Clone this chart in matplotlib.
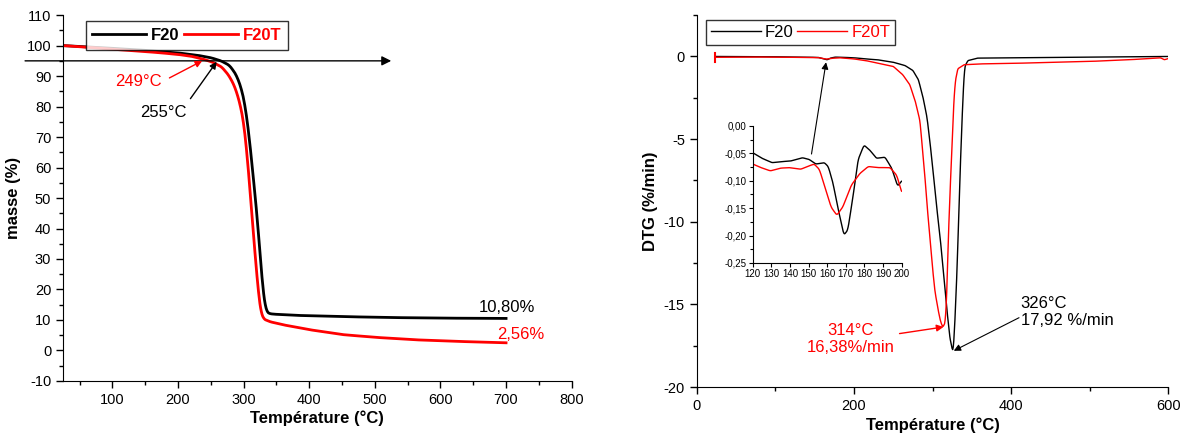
import numpy as np
import matplotlib
matplotlib.use("Agg")
import matplotlib.pyplot as plt
from matplotlib.ticker import MultipleLocator, FuncFormatter

plt.rcParams["font.family"] = ["Liberation Sans", "DejaVu Sans"]
plt.rcParams["axes.unicode_minus"] = False

# --- TGA (masse %) ---
tga_t_f20 = [25, 60, 100, 140, 170, 200, 230, 250, 265, 278, 288, 296, 302, 308, 315,
             320, 324, 328, 331, 334, 338, 345, 380, 450, 520, 600, 700]
tga_m_f20 = [100, 99.6, 99.1, 98.6, 98.1, 97.6, 96.8, 96.0, 95.0, 93.5, 90.5, 86.0, 80.0,
             70.0, 55.0, 44.0, 33.0, 22.0, 16.0, 12.8, 12.1, 11.9, 11.5, 11.1, 10.8, 10.6, 10.5]
tga_t_f20t = [25, 60, 100, 140, 170, 200, 220, 237, 252, 266, 276, 284, 290, 296, 300,
              304, 308, 312, 316, 320, 323, 326, 330, 340, 360, 400, 450, 500, 560, 620, 700]
tga_m_f20t = [100, 99.5, 98.8, 98.2, 97.7, 97.1, 96.5, 95.6, 94.6, 93.0, 90.5, 87.5, 84.0,
              79.0, 74.0, 66.0, 56.0, 45.0, 34.0, 24.0, 17.0, 12.5, 10.3, 9.4, 8.4, 6.8,
              5.2, 4.3, 3.5, 3.0, 2.5]

# --- DTG (%/min) ---
dtg_t_f20 = [23, 60, 100, 140, 155, 162, 166, 170, 176, 185, 200, 215, 230, 250, 265, 275,
             282, 288, 293, 297, 301, 305, 310, 314, 318, 322, 326, 328, 331, 335, 337,
             339, 341, 345, 357, 400, 450, 500, 550, 600]
dtg_v_f20 = [0, -0.01, -0.02, -0.04, -0.06, -0.15, -0.2, -0.1, -0.04, -0.05, -0.08, -0.15,
             -0.2, -0.35, -0.55, -0.85, -1.4, -2.5, -3.7, -5.3, -7.1, -9.0, -11.1, -13.2,
             -15.2, -17.0, -17.92, -16.5, -13.1, -7.1, -4.5, -2.1, -0.6, -0.25, -0.1,
             -0.08, -0.06, -0.04, -0.02, 0.0]
dtg_t_f20t = [23, 60, 100, 140, 155, 160, 165, 172, 182, 200, 215, 230, 250, 262, 271, 278,
              284, 290, 293, 297, 300, 303, 307, 310, 313, 316, 318, 320, 322, 325, 327,
              329, 332, 340, 360, 400, 450, 500, 550, 590, 595, 600]
dtg_v_f20t = [-0.05, -0.03, -0.04, -0.06, -0.07, -0.12, -0.16, -0.11, -0.08, -0.15, -0.25,
              -0.4, -0.6, -1.1, -1.7, -2.7, -3.9, -7.1, -9.0, -11.1, -12.8, -14.2, -15.3,
              -16.0, -16.38, -16.1, -14.5, -11.1, -8.5, -5.1, -2.8, -1.5, -0.75, -0.5,
              -0.45, -0.42, -0.36, -0.3, -0.2, -0.08, -0.2, -0.12]
dtg_start_cap = [0.22, -0.35]

# --- inset DTG 120-200 °C ---
ins_t_f20 = [120, 124.9, 130.3, 135.7, 140.3, 146.6, 150.2, 153.8, 158.4, 160.5, 162.9,
             165.6, 168.9, 171, 173.8, 176.5, 179.7, 182.8, 186.4, 191, 194.6, 197.8, 200]
ins_v_f20 = [-0.049, -0.059, -0.067, -0.065, -0.064, -0.058, -0.061, -0.0695, -0.067,
             -0.074, -0.102, -0.148, -0.199, -0.19, -0.129, -0.062, -0.035, -0.044,
             -0.059, -0.057, -0.077, -0.110, -0.100]
ins_t_f20t = [120, 124, 129.4, 134.8, 139.4, 145.7, 149.3, 152.9, 155.7, 158.4, 162,
              165.1, 168.3, 172.9, 177.4, 182, 187.3, 193.7, 197.3, 200]
ins_v_f20t = [-0.0695, -0.0756, -0.082, -0.077, -0.076, -0.079, -0.074, -0.0695, -0.079,
              -0.108, -0.148, -0.163, -0.148, -0.108, -0.087, -0.074, -0.076, -0.076,
              -0.090, -0.122]


def smooth(x, y, n=6):
    # densify with a light moving average to soften the polyline
    xs = np.linspace(min(x), max(x), len(x) * 20)
    ys = np.interp(xs, x, y)
    k = np.ones(n) / n
    yp = np.convolve(np.pad(ys, (n // 2, n - 1 - n // 2), mode="edge"), k, mode="valid")
    return xs, yp


def arrow(ax, start, end, color, lw=1, ms=10):
    ax.annotate("", xy=end, xytext=start, annotation_clip=False,
                arrowprops=dict(arrowstyle="-|>", color=color, lw=lw, mutation_scale=ms,
                                shrinkA=0, shrinkB=0))


fig = plt.figure(figsize=(11.91, 4.45), dpi=100)
ax1 = fig.add_axes([0.053, 0.144, 0.427, 0.822])
ax2 = fig.add_axes([0.585, 0.130, 0.396, 0.836])
axi = fig.add_axes([0.632, 0.409, 0.125, 0.308])

# ---------------- left: TGA ----------------
ax1.plot(*smooth(tga_t_f20, tga_m_f20), color="black", lw=2, label="F20")
ax1.plot(*smooth(tga_t_f20t, tga_m_f20t), color="red", lw=2, label="F20T")
ax1.set_xlim(25, 800)
ax1.set_ylim(-10, 110)
ax1.xaxis.set_major_locator(MultipleLocator(100))
ax1.xaxis.set_minor_locator(MultipleLocator(50))
ax1.yaxis.set_major_locator(MultipleLocator(10))
ax1.yaxis.set_minor_locator(MultipleLocator(5))
ax1.spines[["top", "right"]].set_visible(False)
ax1.tick_params(labelsize=10.5, length=5, width=1)
ax1.tick_params(which="minor", length=3, width=1)
ax1.set_xlabel("Température (°C)", fontsize=12, fontweight="bold", labelpad=3)
ax1.set_ylabel("masse (%)", fontsize=12, fontweight="bold", labelpad=4)

arrow(ax1, (-33, 95), (525, 95), "black", ms=14)
ax1.text(140, 88.3, "249°C", color="red", fontsize=12, ha="center", va="center")
arrow(ax1, (187, 89.4), (237, 95), "red")
ax1.text(178, 78, "255°C", color="black", fontsize=12, ha="center", va="center")
arrow(ax1, (219, 82.6), (259, 94.7), "black")
ax1.text(701, 14, "10,80%", fontsize=12, ha="center", va="center")
ax1.text(722, 5.1, "2,56%", fontsize=12, ha="center", va="center", color="red")
ax1.legend(loc="upper left", bbox_to_anchor=(0.028, 1.006), ncol=2, frameon=True,
           fancybox=False, edgecolor="black", handlelength=3.2, columnspacing=0.3,
           handletextpad=0.3, borderpad=0.4, labelcolor="linecolor",
           prop=dict(weight="bold", size=12))

# ---------------- right: DTG ----------------
ax2.plot(*smooth(dtg_t_f20, dtg_v_f20, 3), color="black", lw=1, label="F20")
ax2.plot(*smooth(dtg_t_f20t, dtg_v_f20t, 3), color="red", lw=1, label="F20T")
ax2.plot([dtg_t_f20t[0]] * 2, dtg_start_cap, color="red", lw=1.5)
ax2.set_xlim(0, 600)
ax2.set_ylim(-20, 2.5)
ax2.xaxis.set_major_locator(MultipleLocator(200))
ax2.xaxis.set_minor_locator(MultipleLocator(100))
ax2.yaxis.set_major_locator(MultipleLocator(5))
ax2.yaxis.set_minor_locator(MultipleLocator(2.5))
ax2.spines[["top", "right"]].set_visible(False)
ax2.tick_params(labelsize=10.5, length=5, width=1)
ax2.tick_params(which="minor", length=3, width=1)
ax2.set_xlabel("Température (°C)", fontsize=12, fontweight="bold", labelpad=3)
ax2.set_ylabel("DTG (%/min)", fontsize=12, fontweight="bold", labelpad=4)

ax2.text(195.5, -17.1, "314°C\n16,38%/min", color="red", fontsize=12, ha="center",
         va="center", linespacing=1.2)
arrow(ax2, (258, -16.76), (314, -16.36), "red")
ax2.text(412, -15.45, "326°C\n17,92 %/min", color="black", fontsize=12, ha="left",
         va="center", linespacing=1.2)
arrow(ax2, (410, -15.8), (327, -17.8), "black", lw=0.8)
arrow(ax2, (146, -5.9), (164.5, -0.35), "black", lw=0.8)
ax2.legend(loc="upper left", bbox_to_anchor=(0.012, 0.995), ncol=2, frameon=True,
           fancybox=False, edgecolor="black", handlelength=3.0, columnspacing=0.2,
           handletextpad=0.25, borderpad=0.3, borderaxespad=0.2, labelcolor="linecolor",
           prop=dict(size=12))

# ---------------- inset ----------------
axi.plot(*smooth(ins_t_f20, ins_v_f20, 8), color="black", lw=1)
axi.plot(*smooth(ins_t_f20t, ins_v_f20t, 8), color="red", lw=1)
axi.set_xlim(120, 200)
axi.set_ylim(-0.25, 0.0)
axi.xaxis.set_major_locator(MultipleLocator(10))
axi.yaxis.set_major_locator(MultipleLocator(0.05))
axi.yaxis.set_minor_locator(MultipleLocator(0.025))
axi.yaxis.set_major_formatter(FuncFormatter(lambda v, p: f"{v:.2f}".replace(".", ",")
                                            .replace("-0,00", "0,00")))
axi.spines[["top", "right"]].set_visible(False)
axi.tick_params(labelsize=7, length=3, width=0.8, pad=1.5)
axi.tick_params(which="minor", length=2, width=0.8)
axi.patch.set_alpha(0)

fig.savefig("out.png", dpi=100)
